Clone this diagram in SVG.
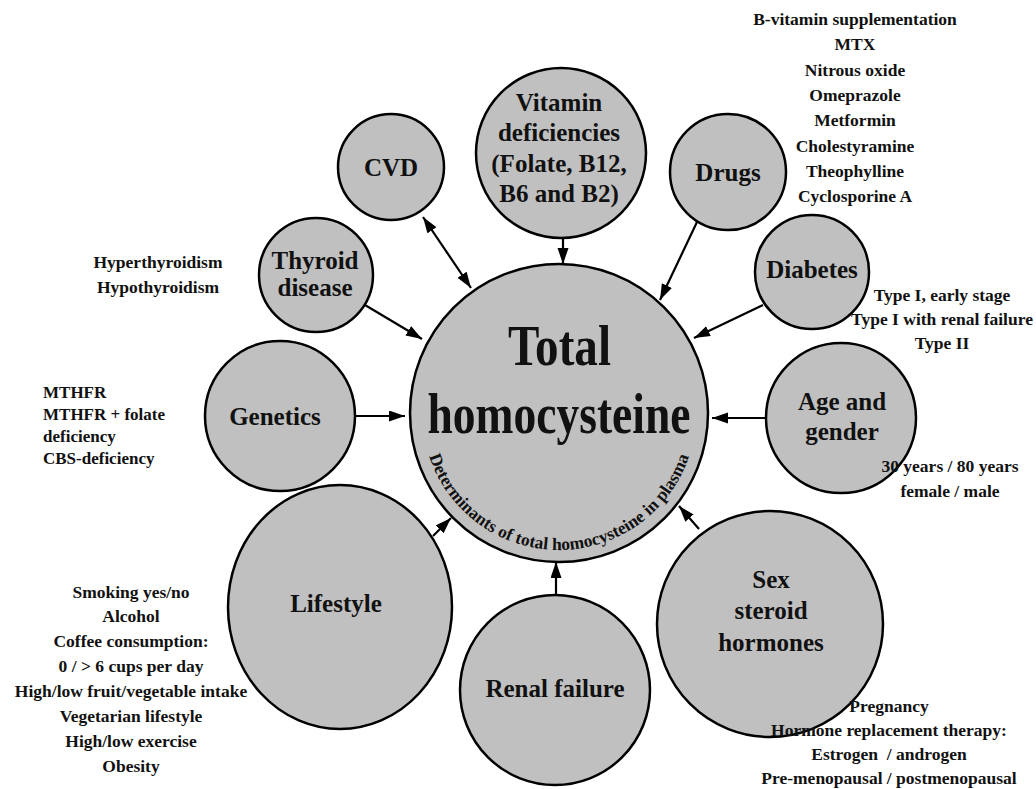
<svg xmlns="http://www.w3.org/2000/svg" width="1036" height="789" viewBox="0 0 1036 789" font-family="'Liberation Serif', 'Times New Roman', Times, serif">
<defs>
<style>
.n{fill:#c0c0c0;stroke:#000;stroke-width:2.5}
text{font-family:"Liberation Serif","Times New Roman",Times,serif;font-weight:700;fill:#111;text-anchor:middle}
.lb{font-size:25px}
.ls{font-size:17.5px}
.c{stroke:#000;stroke-width:2.2;fill:none;marker-end:url(#ah)}
</style>
<marker id="ah" markerUnits="userSpaceOnUse" markerWidth="17" markerHeight="12" refX="16" refY="5.5" orient="auto-start-reverse">
<path d="M0,0 L16,5.5 L0,11 z" fill="#000"/>
</marker>
<path id="arc" d="M425,441.5 A137,137 0 0 0 693,441.5"/>
</defs>
<rect width="1036" height="789" fill="#fff"/>

<g id="connectors">
<line class="c" x1="563" y1="238" x2="563" y2="264"/>
<line class="c" x1="423" y1="217" x2="471" y2="288" style="marker-start:url(#ah)"/>
<line class="c" x1="365" y1="305" x2="422" y2="339"/>
<line class="c" x1="356" y1="416" x2="405" y2="416"/>
<line class="c" x1="433" y1="536" x2="451" y2="518"/>
<line class="c" x1="556" y1="596" x2="556" y2="562"/>
<line class="c" x1="699" y1="529" x2="679" y2="506"/>
<line class="c" x1="767" y1="418" x2="712" y2="418"/>
<line class="c" x1="763" y1="305" x2="694" y2="338"/>
<line class="c" x1="697" y1="222" x2="660" y2="300"/>
</g>

<g id="center">
<circle class="n" cx="559" cy="413" r="149"/>
<text x="559.5" y="365" font-size="57" textLength="103" lengthAdjust="spacingAndGlyphs">Total</text>
<text x="559" y="433" font-size="57" textLength="263" lengthAdjust="spacingAndGlyphs">homocysteine</text>
<text font-size="17.5"><textPath href="#arc" startOffset="50%">Determinants of total homocysteine in plasma</textPath></text>
</g>

<g id="vitamin">
<circle class="n" cx="561" cy="153" r="85"/>
<text class="lb" x="559" y="111">Vitamin</text>
<text class="lb" x="559" y="141">deficiencies</text>
<text class="lb" x="559" y="172">(Folate, B12,</text>
<text class="lb" x="559" y="202">B6 and B2)</text>
</g>

<g id="cvd">
<circle class="n" cx="391" cy="167" r="53"/>
<text class="lb" x="391" y="176">CVD</text>
</g>

<g id="thyroid">
<circle class="n" cx="316" cy="275" r="57"/>
<text class="lb" x="315" y="269">Thyroid</text>
<text class="lb" x="315" y="296">disease</text>
<text class="ls" x="158" y="268">Hyperthyroidism</text>
<text class="ls" x="158" y="293">Hypothyroidism</text>
</g>

<g id="genetics">
<circle class="n" cx="280" cy="416" r="75"/>
<text class="lb" x="275" y="425">Genetics</text>
<text x="43" y="398" style="text-anchor:start;font-size:17px">MTHFR</text>
<text x="43" y="420" style="text-anchor:start;font-size:17px">MTHFR + folate</text>
<text x="43" y="442" style="text-anchor:start;font-size:17px">deficiency</text>
<text x="43" y="464" style="text-anchor:start;font-size:17px">CBS-deficiency</text>
</g>

<g id="lifestyle">
<ellipse class="n" cx="340" cy="607" rx="112" ry="122"/>
<text class="lb" x="336" y="612">Lifestyle</text>
<text class="ls" x="131" y="598">Smoking yes/no</text>
<text class="ls" x="131" y="622">Alcohol</text>
<text class="ls" x="131" y="647">Coffee consumption:</text>
<text class="ls" x="131" y="672">0 / &gt; 6 cups per day</text>
<text class="ls" x="131" y="697">High/low fruit/vegetable intake</text>
<text class="ls" x="131" y="722">Vegetarian lifestyle</text>
<text class="ls" x="131" y="747">High/low exercise</text>
<text class="ls" x="131" y="772">Obesity</text>
</g>

<g id="renal">
<circle class="n" cx="555" cy="690" r="95"/>
<text class="lb" x="555" y="697">Renal failure</text>
</g>

<g id="sex">
<circle class="n" cx="770" cy="624" r="113"/>
<text class="lb" x="771" y="588">Sex</text>
<text class="lb" x="771" y="619">steroid</text>
<text class="lb" x="771" y="651">hormones</text>
<text class="ls" x="889" y="712">Pregnancy</text>
<text class="ls" x="889" y="736">Hormone replacement therapy:</text>
<text class="ls" x="889" y="760" xml:space="preserve">Estrogen  / androgen</text>
<text class="ls" x="889" y="784">Pre-menopausal / postmenopausal</text>
</g>

<g id="age">
<circle class="n" cx="841" cy="418" r="75"/>
<text class="lb" x="842" y="410">Age and</text>
<text class="lb" x="842" y="440">gender</text>
<text class="ls" x="950" y="472">30 years / 80 years</text>
<text class="ls" x="950" y="497">female / male</text>
</g>

<g id="diabetes">
<circle class="n" cx="812" cy="272" r="57"/>
<text class="lb" x="812" y="278">Diabetes</text>
<text class="ls" x="942" y="301">Type I, early stage</text>
<text class="ls" x="942" y="325">Type I with renal failure</text>
<text class="ls" x="942" y="349">Type II</text>
</g>

<g id="drugs">
<circle class="n" cx="728" cy="172" r="58"/>
<text class="lb" x="728" y="181">Drugs</text>
<text class="ls" x="855" y="25">B-vitamin supplementation</text>
<text class="ls" x="855" y="50">MTX</text>
<text class="ls" x="855" y="76">Nitrous oxide</text>
<text class="ls" x="855" y="101">Omeprazole</text>
<text class="ls" x="855" y="126">Metformin</text>
<text class="ls" x="855" y="152">Cholestyramine</text>
<text class="ls" x="855" y="177">Theophylline</text>
<text class="ls" x="855" y="202">Cyclosporine A</text>
</g>
</svg>
